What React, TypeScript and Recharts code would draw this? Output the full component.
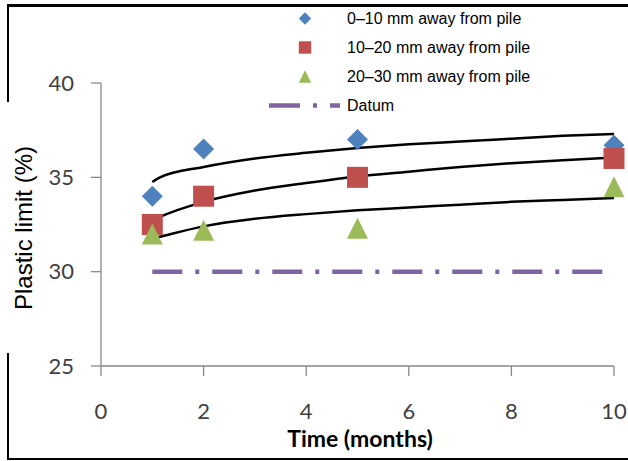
import React from "react";
import { ComposedChart, Scatter, Line, XAxis, YAxis } from "recharts";

// measured points
const months = [1, 2, 5, 10];
const near = [34, 36.5, 37, 36.7];
const middle = [32.5, 34, 35, 36];
const far = [32, 32.2, 32.3, 34.5];

// trend curves
const trendMonths = [1, 1.15, 2, 3, 4, 5, 6, 7, 8, 9, 10];
const nearTrend = [34.75, 35.0, 35.55, 36.0, 36.3, 36.55, 36.75, 36.9, 37.05, 37.2, 37.3];
const middleTrend = [32.7, 32.9, 33.7, 34.3, 34.7, 35.05, 35.3, 35.55, 35.75, 35.9, 36.05];
const farTrend = [31.75, 31.85, 32.4, 32.8, 33.05, 33.25, 33.4, 33.55, 33.7, 33.8, 33.9];

const datumMonths = [1, 10];
const datumValues = [30, 30];

const xTicks = [0, 2, 4, 6, 8, 10];
const yTicks = [25, 30, 35, 40];

const legendLabels = [
  "0\u201310 mm away from pile",
  "10\u201320 mm away from pile",
  "20\u201330 mm away from pile",
  "Datum",
];

const COLORS = {
  near: "#4F81BD",
  middle: "#C0504D",
  far: "#9BBB59",
  datum: "#8064A2",
  axis: "#898989",
  tickText: "#404040",
};

const toPoints = (xs: number[], ys: number[]) => xs.map((x, i) => ({ x, y: ys[i] }));

const Diamond = ({ cx, cy, r = 10.5 }: any) => (
  <polygon points={`${cx},${cy - r} ${cx + r},${cy} ${cx},${cy + r} ${cx - r},${cy}`} fill={COLORS.near} />
);
const Square = ({ cx, cy, r = 10.5 }: any) => (
  <rect x={cx - r} y={cy - r} width={r * 2} height={r * 2} fill={COLORS.middle} />
);
const Triangle = ({ cx, cy, r = 10.5 }: any) => (
  <polygon points={`${cx},${cy - r} ${cx + r},${cy + r} ${cx - r},${cy + r}`} fill={COLORS.far} />
);

const LegendIcon = ({ index }: { index: number }) => {
  const c = 43;
  const m = 14.5;
  return (
    <svg width={80} height={29} style={{ display: "block" }}>
      {index === 0 && <Diamond cx={c} cy={m} r={6.2} />}
      {index === 1 && <Square cx={c} cy={m} r={6.2} />}
      {index === 2 && <Triangle cx={c} cy={m} r={6.2} />}
      {index === 3 && (
        <line x1={7} x2={78} y1={m} y2={m} stroke={COLORS.datum} strokeWidth={4.5} strokeDasharray="31 13 4 13" />
      )}
    </svg>
  );
};

export default function App() {
  const axisStyle = { stroke: COLORS.axis, strokeWidth: 1.3 };
  const tickStyle = { fill: COLORS.tickText, fontSize: 22, fontFamily: "Lato" };

  return (
    <div style={{ position: "absolute", left: 0, top: 0, width: 628, height: 461, background: "#fff" }}>
      {/* frame */}
      <div style={{ position: "absolute", left: 7, top: 4, width: 621, height: 2.5, background: "#000" }} />
      <div style={{ position: "absolute", left: 7, top: 457.5, width: 621, height: 2.5, background: "#000" }} />
      <div style={{ position: "absolute", left: 7, top: 4, width: 2, height: 98, background: "#000" }} />
      <div style={{ position: "absolute", left: 7, top: 353, width: 2, height: 107, background: "#000" }} />

      <ComposedChart width={628} height={461} margin={{ top: 83, right: 14, bottom: 35, left: 0 }}>
        <XAxis
          type="number"
          dataKey="x"
          domain={[0, 10]}
          ticks={xTicks}
          height={60}
          axisLine={axisStyle}
          tickLine={axisStyle}
          tickSize={10}
          tickMargin={27}
          tick={tickStyle}
        />
        <YAxis
          type="number"
          dataKey="y"
          domain={[25, 40]}
          ticks={yTicks}
          width={101}
          axisLine={axisStyle}
          tickLine={axisStyle}
          tickSize={10}
          tickMargin={17}
          tick={tickStyle}
        />
        <Scatter data={toPoints(months, near)} shape={(p: any) => <Diamond cx={p.cx} cy={p.cy} />} isAnimationActive={false} />
        <Scatter data={toPoints(months, middle)} shape={(p: any) => <Square cx={p.cx} cy={p.cy} />} isAnimationActive={false} />
        <Scatter data={toPoints(months, far)} shape={(p: any) => <Triangle cx={p.cx} cy={p.cy} />} isAnimationActive={false} />
        <Line data={toPoints(trendMonths, nearTrend)} dataKey="y" type="monotone" stroke="#000" strokeWidth={2.5} dot={false} isAnimationActive={false} />
        <Line data={toPoints(trendMonths, middleTrend)} dataKey="y" type="monotone" stroke="#000" strokeWidth={2.5} dot={false} isAnimationActive={false} />
        <Line data={toPoints(trendMonths, farTrend)} dataKey="y" type="monotone" stroke="#000" strokeWidth={2.5} dot={false} isAnimationActive={false} />
        <Line
          data={toPoints(datumMonths, datumValues)}
          dataKey="y"
          type="linear"
          stroke={COLORS.datum}
          strokeWidth={4.5}
          strokeDasharray="30 13 4 13"
          dot={false}
          isAnimationActive={false}
        />
      </ComposedChart>

      {/* axis titles */}
      <svg width={628} height={461} style={{ position: "absolute", left: 0, top: 0, pointerEvents: "none" }}>
        <text x={360} y={447} textAnchor="middle" fontFamily="Lato" fontWeight={700} fontSize={23} fill="#000">
          Time (months)
        </text>
        <text
          x={0}
          y={0}
          transform="translate(32,228) rotate(-90)"
          textAnchor="middle"
          fontFamily="Liberation Sans, Arial"
          fontSize={24}
          fill="#000"
        >
          Plastic limit (%)
        </text>
      </svg>

      {/* legend */}
      <div style={{ position: "absolute", left: 262, top: 3.5, fontFamily: "Liberation Sans, Arial", fontSize: 16, color: "#000" }}>
        {legendLabels.map((label, i) => (
          <div key={i} style={{ display: "flex", alignItems: "center", height: 29 }}>
            <LegendIcon index={i} />
            <span style={{ marginLeft: 5, lineHeight: "29px", whiteSpace: "nowrap" }}>{label}</span>
          </div>
        ))}
      </div>
    </div>
  );
}
